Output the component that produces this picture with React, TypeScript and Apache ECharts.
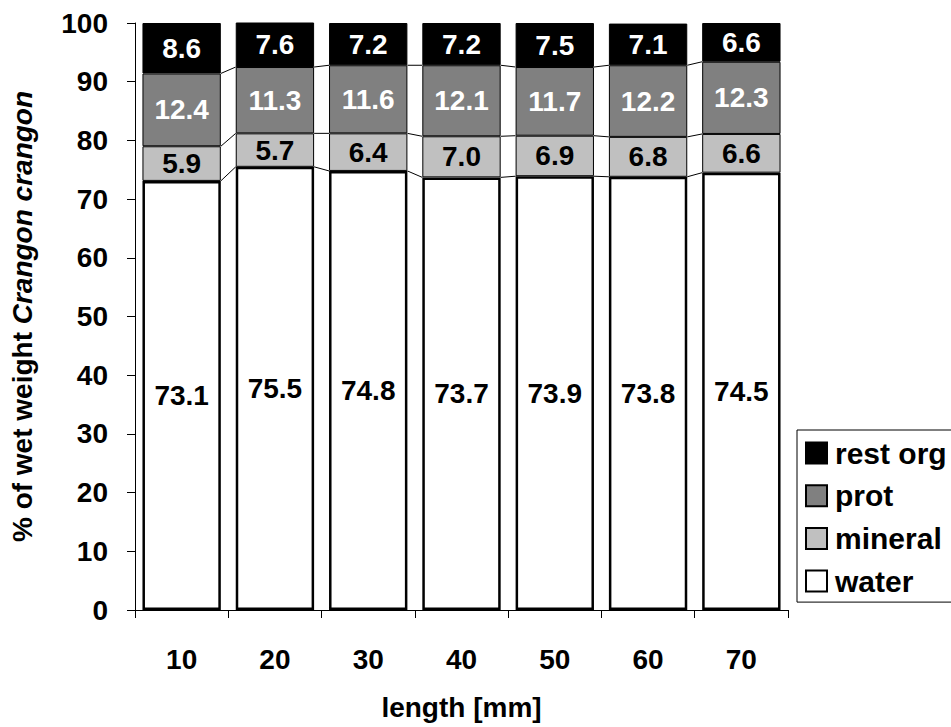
import React, { useEffect, useRef } from "react";
import * as echarts from "echarts";

const categories = ["10", "20", "30", "40", "50", "60", "70"];
const water = [73.1, 75.5, 74.8, 73.7, 73.9, 73.8, 74.5];
const mineral = [5.9, 5.7, 6.4, 7.0, 6.9, 6.8, 6.6];
const prot = [12.4, 11.3, 11.6, 12.1, 11.7, 12.2, 12.3];
const restOrg = [8.6, 7.6, 7.2, 7.2, 7.5, 7.1, 6.6];
const legendOrder = ["rest org", "prot", "mineral", "water"];

const FONT = "Liberation Sans, Arial, sans-serif";
const FS = 28;
const GAP_PCT = 16;

export default function App() {
  const ref = useRef<HTMLDivElement>(null);
  useEffect(() => {
    document.body.style.margin = "0";
    if (!ref.current) return;
    const chart = echarts.init(ref.current, null, { renderer: "svg" });

    const c1 = water.map((w) => w);
    const c2 = water.map((w, i) => w + mineral[i]);
    const c3 = water.map((w, i) => w + mineral[i] + prot[i]);
    const lineData: number[][] = [];
    for (let i = 0; i < categories.length - 1; i++) {
      lineData.push([i, c1[i], c1[i + 1], c2[i], c2[i + 1], c3[i], c3[i + 1]]);
    }

    const label = (color: string) => ({
      show: true,
      position: "inside",
      color,
      fontFamily: FONT,
      fontWeight: "bold",
      fontSize: FS,
      formatter: (p: any) => Number(p.value).toFixed(1),
    });

    const bar = (name: string, data: number[], fill: string, textColor: string, bw: number) => ({
      name,
      type: "bar",
      stack: "total",
      data,
      barCategoryGap: GAP_PCT + "%",
      itemStyle: { color: fill, borderColor: "#000", borderWidth: bw },
      label: label(textColor),
    });

    chart.setOption({
      animation: false,
      backgroundColor: "#fff",
      grid: { left: 132, top: 23, right: 163, bottom: 117 },
      legend: {
        orient: "vertical",
        left: 797,
        top: 430,
        data: legendOrder,
        padding: [8, 30, 6, 8],
        itemGap: 12.7,
        itemWidth: 21,
        itemHeight: 21,
        borderColor: "#000",
        borderWidth: 1,
        borderRadius: 0,
        icon: "rect",
        itemStyle: { borderColor: "#000", borderWidth: 2 },
        textStyle: {
          fontFamily: FONT,
          fontWeight: "bold",
          fontSize: 30,
          color: "#000",
          padding: [0, 0, 0, 3],
        },
      },
      xAxis: {
        type: "category",
        data: categories,
        name: "length [mm]",
        nameLocation: "middle",
        nameGap: 83,
        nameTextStyle: { fontFamily: FONT, fontWeight: "bold", fontSize: FS, color: "#000" },
        axisLine: { lineStyle: { color: "#000", width: 1 } },
        axisTick: { show: true, length: 8, lineStyle: { color: "#000" } },
        axisLabel: { fontFamily: FONT, fontWeight: "bold", fontSize: FS, color: "#000", margin: 35 },
      },
      yAxis: {
        type: "value",
        min: 0,
        max: 100,
        interval: 10,
        name: "{a|% of wet weight }{b|Crangon crangon}",
        nameLocation: "middle",
        nameGap: 99,
        nameTextStyle: {
          color: "#000",
          rich: {
            a: { fontFamily: FONT, fontWeight: "bold", fontSize: FS, color: "#000" },
            b: { fontFamily: FONT, fontWeight: "bold", fontStyle: "italic", fontSize: FS, color: "#000" },
          },
        },
        splitLine: { show: false },
        axisLine: { show: true, lineStyle: { color: "#000", width: 1 } },
        axisTick: { show: true, length: 8, lineStyle: { color: "#000" } },
        axisLabel: { fontFamily: FONT, fontWeight: "bold", fontSize: FS, color: "#000", margin: 27 },
      },
      series: [
        bar("water", water, "#ffffff", "#000", 2.5),
        bar("mineral", mineral, "#c0c0c0", "#000", 1),
        bar("prot", prot, "#808080", "#fff", 1),
        bar("rest org", restOrg, "#000000", "#fff", 1),
        {
          type: "custom",
          name: "serieslines",
          silent: true,
          data: lineData,
          encode: { x: 0, y: [1, 2] },
          z: 5,
          renderItem: (params: any, api: any) => {
            const i = api.value(0);
            const band = api.size([1, 0])[0];
            const half = (band * (1 - GAP_PCT / 100)) / 2;
            const children: any[] = [];
            for (let k = 0; k < 3; k++) {
              const v0 = api.value(1 + k * 2);
              const v1 = api.value(2 + k * 2);
              const p0 = api.coord([i, v0]);
              const p1 = api.coord([i + 1, v1]);
              children.push({
                type: "line",
                shape: { x1: p0[0] + half, y1: p0[1], x2: p1[0] - half, y2: p1[1] },
                style: { stroke: "#000", lineWidth: 1 },
              });
            }
            return { type: "group", children };
          },
        },
      ],
    });
    return () => chart.dispose();
  }, []);
  return <div ref={ref} style={{ width: 951, height: 727 }} />;
}
